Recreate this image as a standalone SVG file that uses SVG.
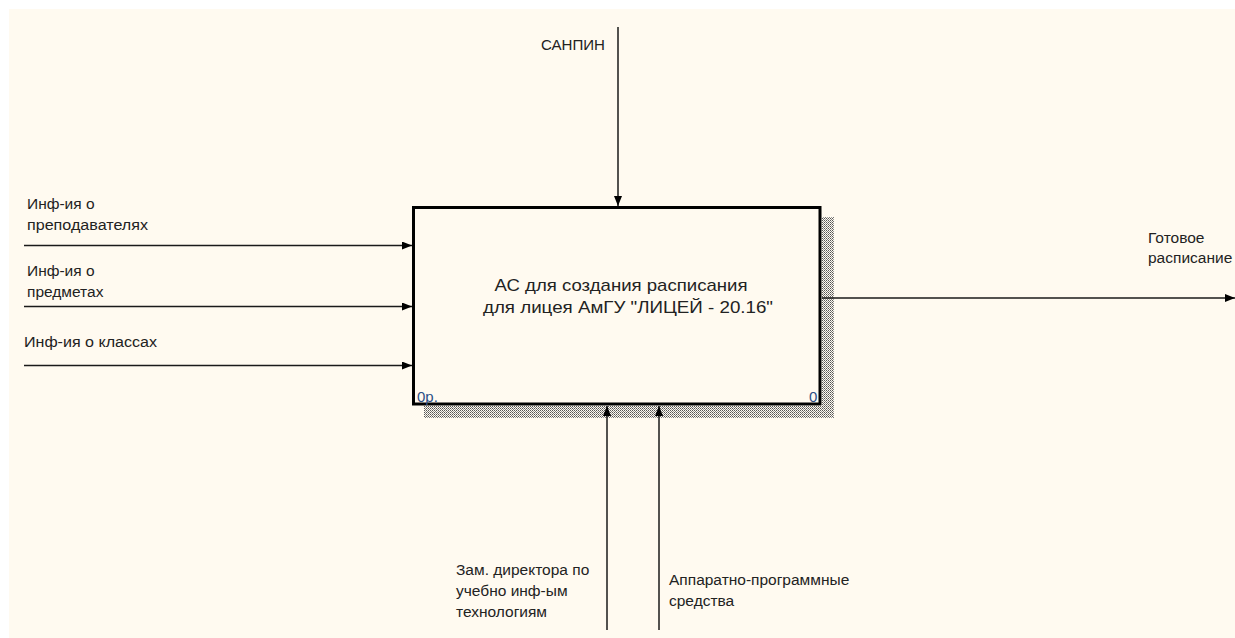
<svg xmlns="http://www.w3.org/2000/svg" width="1235" height="638" viewBox="0 0 1235 638">
<style>
  .bg { fill: #fffaf0; }
  .box { fill: #fffaf0; stroke: #000; stroke-width: 3; }
  .arrow { fill: none; stroke: #1a1a1a; stroke-width: 1.5; marker-end: url(#ah); }
  .lbl { font-family: "Liberation Sans", Arial, sans-serif; font-size: 15.5px; fill: #222; }
  .main { font-family: "Liberation Sans", Arial, sans-serif; font-size: 17px; fill: #222; text-anchor: middle; }
  .num { font-family: "Liberation Sans", Arial, sans-serif; font-size: 15px; fill: #2b4f86; }
</style>
<defs>
  <marker id="ah" viewBox="0 0 10 8" refX="10" refY="4" markerWidth="10" markerHeight="8" markerUnits="userSpaceOnUse" orient="auto">
    <path d="M0,0 L10,4 L0,8 Z" fill="#000"/>
  </marker>
  <pattern id="hatch" width="4" height="4" patternUnits="userSpaceOnUse">
    <rect width="4" height="4" fill="#fffaf0"/>
    <rect x="0" y="0" width="1" height="1" fill="#555"/>
    <rect x="2" y="0" width="1" height="1" fill="#555"/>
    <rect x="1" y="1" width="1" height="1" fill="#777"/>
    <rect x="3" y="1" width="1" height="1" fill="#999"/>
    <rect x="0" y="2" width="1" height="1" fill="#555"/>
    <rect x="2" y="2" width="1" height="1" fill="#555"/>
    <rect x="1" y="3" width="1" height="1" fill="#999"/>
    <rect x="3" y="3" width="1" height="1" fill="#777"/>
  </pattern>
</defs>
<rect x="0" y="0" width="1235" height="638" fill="#fff"/>
<rect class="bg" x="9" y="9" width="1226" height="629"/>

<g id="node-main">
  <rect x="424" y="406" width="410" height="12" fill="url(#hatch)"/>
  <rect x="822" y="217" width="12" height="201" fill="url(#hatch)"/>
  <rect class="box" x="413.5" y="207.5" width="406.5" height="196.5"/>
  <text class="main" x="621" y="291" textLength="253" lengthAdjust="spacingAndGlyphs">АС для создания расписания</text>
  <text class="main" x="628" y="313" textLength="290" lengthAdjust="spacingAndGlyphs">для лицея АмГУ "ЛИЦЕЙ - 20.16"</text>
  <text class="num" x="417" y="402">0р.</text>
  <text class="num" x="809" y="402">0</text>
</g>

<g id="connectors">
  <line class="arrow" x1="618" y1="27" x2="618" y2="206"/>
  <line class="arrow" x1="24" y1="245.5" x2="412" y2="245.5"/>
  <line class="arrow" x1="24" y1="306.5" x2="412" y2="306.5"/>
  <line class="arrow" x1="24" y1="365.5" x2="412" y2="365.5"/>
  <line class="arrow" x1="822" y1="298" x2="1235" y2="298"/>
  <line class="arrow" x1="607" y1="630" x2="607" y2="406"/>
  <line class="arrow" x1="659" y1="630" x2="659" y2="406"/>
</g>

<g id="label-sanpin"><text class="lbl" x="541" y="50" textLength="64" lengthAdjust="spacingAndGlyphs">САНПИН</text></g>
<g id="label-in1">
  <text class="lbl" x="27" y="209">Инф-ия о</text>
  <text class="lbl" x="27" y="230" textLength="121" lengthAdjust="spacingAndGlyphs">преподавателях</text>
</g>
<g id="label-in2">
  <text class="lbl" x="27" y="276">Инф-ия о</text>
  <text class="lbl" x="27" y="297">предметах</text>
</g>
<g id="label-in3"><text class="lbl" x="24" y="347" textLength="133" lengthAdjust="spacingAndGlyphs">Инф-ия о классах</text></g>
<g id="label-out">
  <text class="lbl" x="1148" y="243">Готовое</text>
  <text class="lbl" x="1148" y="263">расписание</text>
</g>
<g id="label-mech1">
  <text class="lbl" x="456" y="575">Зам. директора по</text>
  <text class="lbl" x="456" y="596">учебно инф-ым</text>
  <text class="lbl" x="456" y="617">технологиям</text>
</g>
<g id="label-mech2">
  <text class="lbl" x="669" y="585">Аппаратно-программные</text>
  <text class="lbl" x="669" y="606">средства</text>
</g>
</svg>
